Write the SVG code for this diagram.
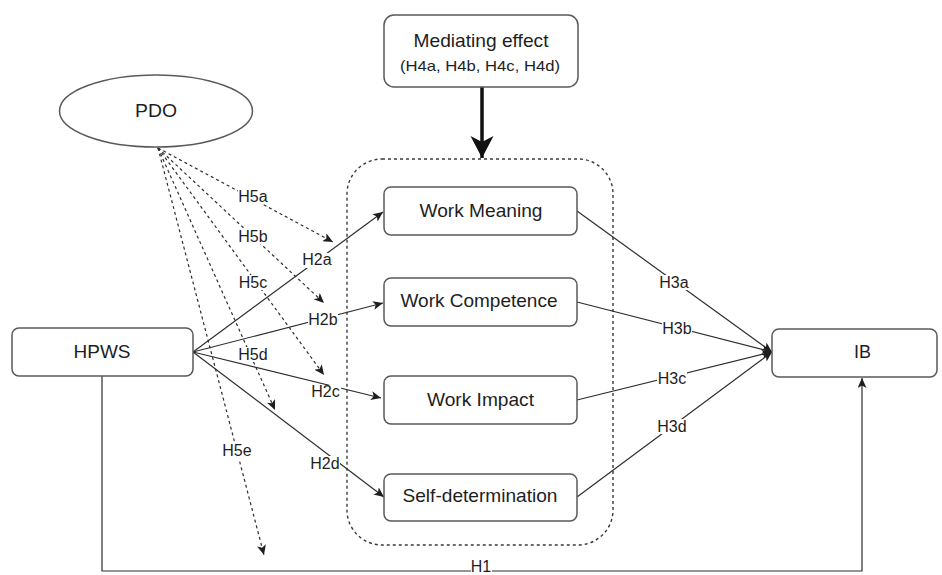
<svg xmlns="http://www.w3.org/2000/svg" width="942" height="575" viewBox="0 0 942 575">
  <defs>
    <style>
      .box { fill: #ffffff; stroke: #5a5a5a; stroke-width: 1.5; }
      .name { font-family: "Liberation Sans", Arial, Helvetica, sans-serif; font-size: 18.5px; fill: #1e1e1e; text-anchor: middle; }
      .sub { font-family: "Liberation Sans", Arial, Helvetica, sans-serif; font-size: 14.5px; fill: #1e1e1e; text-anchor: middle; }
      .lbl { font-family: "Liberation Sans", Arial, Helvetica, sans-serif; font-size: 16px; fill: #1e1e1e; text-anchor: middle; }
      .lblbg { fill: #ffffff; }
      .edge { fill: none; stroke: #2e2e2e; stroke-width: 1.2; }
      .dash { fill: none; stroke: #2e2e2e; stroke-width: 1.2; stroke-dasharray: 3 3; }
      .frame { fill: none; stroke: #3a3a3a; stroke-width: 1.4; stroke-dasharray: 3 3; }
    </style>
    <marker id="arr" markerWidth="11" markerHeight="9" refX="10" refY="4.5" orient="auto" markerUnits="userSpaceOnUse">
      <path d="M0,0 L10,4.5 L0,9 L2.5,4.5 Z" fill="#1e1e1e"/>
    </marker>
    <marker id="arrBig" markerWidth="23" markerHeight="24" refX="22" refY="11.5" orient="auto" markerUnits="userSpaceOnUse">
      <path d="M0,0 L22,11.5 L0,23 L6,11.5 Z" fill="#111111"/>
    </marker>
  </defs>

  <rect width="942" height="575" fill="#ffffff"/>

  <!-- mediator grouping frame -->
  <g id="mediators-frame">
    <rect class="frame" x="347" y="159" width="266" height="386" rx="35" ry="35"/>
  </g>

  <!-- connectors -->
  <g id="connectors">
    <!-- mediating effect onto the mediator set -->
    <line x1="482" y1="87" x2="482" y2="158" stroke="#111111" stroke-width="3.5" marker-end="url(#arrBig)"/>

    <!-- HPWS to mediators -->
    <line class="edge" x1="193" y1="352" x2="383" y2="212" marker-end="url(#arr)"/>
    <line class="edge" x1="193" y1="352" x2="383" y2="303" marker-end="url(#arr)"/>
    <line class="edge" x1="193" y1="352" x2="381" y2="398" marker-end="url(#arr)"/>
    <line class="edge" x1="193" y1="352" x2="384" y2="497" marker-end="url(#arr)"/>

    <!-- mediators to IB -->
    <line class="edge" x1="577" y1="211" x2="772" y2="352" marker-end="url(#arr)"/>
    <line class="edge" x1="577" y1="302" x2="772" y2="352" marker-end="url(#arr)"/>
    <line class="edge" x1="577" y1="400" x2="772" y2="352" marker-end="url(#arr)"/>
    <line class="edge" x1="577" y1="497" x2="772" y2="352" marker-end="url(#arr)"/>

    <!-- PDO moderating paths -->
    <line class="dash" x1="158" y1="148" x2="333" y2="242" marker-end="url(#arr)"/>
    <line class="dash" x1="158" y1="148" x2="324" y2="303" marker-end="url(#arr)"/>
    <line class="dash" x1="158" y1="148" x2="324" y2="375" marker-end="url(#arr)"/>
    <line class="dash" x1="158" y1="148" x2="275" y2="410" marker-end="url(#arr)"/>
    <line class="dash" x1="158" y1="148" x2="264" y2="555" marker-end="url(#arr)"/>

    <!-- direct effect HPWS to IB -->
    <path class="edge" d="M102,376 L102,571 L862,571 L862,378" marker-end="url(#arr)"/>

    <!-- path labels -->
    <g id="edge-labels">
      <rect class="lblbg" x="238" y="189" width="30" height="15"/>
      <text class="lbl" x="253" y="201.5">H5a</text>
      <rect class="lblbg" x="238" y="229" width="30" height="15"/>
      <text class="lbl" x="253" y="241.5">H5b</text>
      <rect class="lblbg" x="238" y="275" width="30" height="15"/>
      <text class="lbl" x="253" y="287.5">H5c</text>
      <rect class="lblbg" x="238" y="347" width="30" height="15"/>
      <text class="lbl" x="253" y="359.5">H5d</text>
      <rect class="lblbg" x="222" y="444" width="30" height="15"/>
      <text class="lbl" x="237" y="456">H5e</text>

      <rect class="lblbg" x="302" y="253" width="30" height="15"/>
      <text class="lbl" x="317" y="265">H2a</text>
      <rect class="lblbg" x="308" y="312" width="30" height="15"/>
      <text class="lbl" x="323" y="324.5">H2b</text>
      <rect class="lblbg" x="311" y="385" width="30" height="15"/>
      <text class="lbl" x="325.5" y="396.5">H2c</text>
      <rect class="lblbg" x="310" y="456" width="30" height="15"/>
      <text class="lbl" x="325" y="468.5">H2d</text>

      <rect class="lblbg" x="659" y="275" width="30" height="15"/>
      <text class="lbl" x="674" y="287.5">H3a</text>
      <rect class="lblbg" x="662" y="321" width="30" height="15"/>
      <text class="lbl" x="677" y="333.5">H3b</text>
      <rect class="lblbg" x="657" y="371" width="30" height="15"/>
      <text class="lbl" x="672" y="383.5">H3c</text>
      <rect class="lblbg" x="657" y="419" width="30" height="15"/>
      <text class="lbl" x="672" y="431.5">H3d</text>

      <rect class="lblbg" x="471" y="561" width="21" height="14"/>
      <text class="lbl" x="481" y="572" font-size="14px">H1</text>
    </g>
  </g>

  <!-- nodes -->
  <g id="node-mediating">
    <rect class="box" x="384" y="15" width="194" height="72" rx="10" ry="10"/>
    <text class="name" x="481" y="47" textLength="135" lengthAdjust="spacingAndGlyphs">Mediating effect</text>
    <text class="sub" x="480" y="71" textLength="160" lengthAdjust="spacingAndGlyphs">(H4a, H4b, H4c, H4d)</text>
  </g>

  <g id="node-pdo">
    <ellipse class="box" cx="156" cy="111" rx="96.5" ry="36"/>
    <text class="name" x="156" y="117" textLength="42" lengthAdjust="spacingAndGlyphs">PDO</text>
  </g>

  <g id="node-hpws">
    <rect class="box" x="12" y="328" width="181" height="48" rx="7" ry="7"/>
    <text class="name" x="102" y="358" textLength="57" lengthAdjust="spacingAndGlyphs">HPWS</text>
  </g>

  <g id="node-work-meaning">
    <rect class="box" x="384" y="187" width="193" height="48" rx="7" ry="7"/>
    <text class="name" x="481" y="216.5" textLength="123" lengthAdjust="spacingAndGlyphs">Work Meaning</text>
  </g>

  <g id="node-work-competence">
    <rect class="box" x="384" y="278" width="193" height="48" rx="7" ry="7"/>
    <text class="name" x="479" y="307" textLength="157" lengthAdjust="spacingAndGlyphs">Work Competence</text>
  </g>

  <g id="node-work-impact">
    <rect class="box" x="384" y="376" width="193" height="48" rx="7" ry="7"/>
    <text class="name" x="480.5" y="405.5" textLength="107" lengthAdjust="spacingAndGlyphs">Work Impact</text>
  </g>

  <g id="node-self-determination">
    <rect class="box" x="384" y="474" width="193" height="47" rx="7" ry="7"/>
    <text class="name" x="480" y="502" textLength="155" lengthAdjust="spacingAndGlyphs">Self-determination</text>
  </g>

  <g id="node-ib">
    <rect class="box" x="772" y="329" width="165" height="48" rx="7" ry="7"/>
    <text class="name" x="862.5" y="358" textLength="17" lengthAdjust="spacingAndGlyphs">IB</text>
  </g>
</svg>
